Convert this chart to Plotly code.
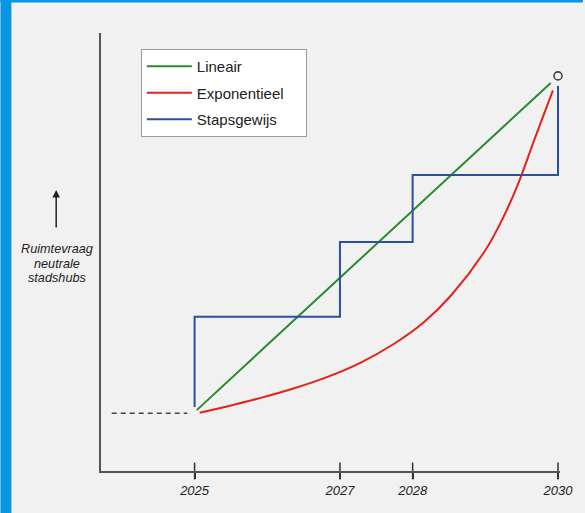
import plotly.graph_objects as go

# ---- data ----
tick_years = [2025, 2027, 2028, 2030]
tick_labels = ["2025", "2027", "2028", "2030"]

lin_x = [2025.03, 2029.90]
lin_y = [13.9, 88.6]

exp_x = [2025.07, 2025.46, 2025.91, 2026.37, 2026.83, 2027.28, 2027.74, 2028.15,
         2028.54, 2029.00, 2029.22, 2029.45, 2029.68, 2029.93]
exp_y = [13.3, 14.8, 16.7, 18.9, 21.5, 24.7, 29.0, 33.9,
         40.3, 50.4, 57.0, 65.5, 75.9, 86.9]

step_x = [2025, 2025, 2027, 2027, 2028, 2028, 2030, 2030]
step_y = [14.6, 35.2, 35.2, 52.3, 52.3, 67.6, 67.6, 87.9]

base_x = [2023.86, 2024.90]
base_y = [13.2, 13.2]

end_x = [2030]
end_y = [90.2]

series_names = ["Lineair", "Exponentieel", "Stapsgewijs"]
y_label_lines = ["Ruimtevraag", "neutrale", "stadshubs"]

FONT = "Liberation Sans, Arial, sans-serif"
PAD = "\u00a0" * 4
PX_PER_YEAR = 73
PLOT_W = 461  # plot area width in px
X0 = 2025 - 94 / PX_PER_YEAR
X1 = X0 + PLOT_W / PX_PER_YEAR

fig = go.Figure()
fig.add_trace(go.Scatter(x=lin_x, y=lin_y, mode="lines", name=series_names[0] + PAD,
                         line=dict(color="#2b8a2b", width=2), legendgroup="a"))
fig.add_trace(go.Scatter(x=exp_x, y=exp_y, mode="lines", name=series_names[1] + PAD,
                         line=dict(color="#e3221e", width=2, shape="spline", smoothing=1.0),
                         legendgroup="b"))
fig.add_trace(go.Scatter(x=step_x, y=step_y, mode="lines", name=series_names[2] + PAD,
                         line=dict(color="#2d4f9c", width=2), legendgroup="c"))
fig.add_trace(go.Scatter(x=base_x, y=base_y, mode="lines", showlegend=False,
                         line=dict(color="#444444", width=1.5, dash="5px,4px")))
fig.add_trace(go.Scatter(x=end_x, y=end_y, mode="markers", showlegend=False,
                         marker=dict(symbol="circle-open", size=8, color="#444444",
                                     line=dict(width=1.6)), cliponaxis=False))
# tick marks crossing the x axis
fig.add_trace(go.Scatter(x=tick_years, y=[0] * len(tick_years), mode="markers", showlegend=False,
                         marker=dict(symbol="line-ns", size=12, line=dict(color="#333333", width=1.5)),
                         cliponaxis=False, hoverinfo="skip"))

annotations = [
    dict(text="", xref="paper", yref="paper", x=(56 - 101) / PLOT_W, y=(471 - 190) / 438,
         showarrow=True, ax=0, ay=39, arrowhead=2, arrowsize=1, arrowwidth=1.5,
         arrowcolor="#222222"),
]
for i, line in enumerate(y_label_lines):
    annotations.append(dict(text=line, xref="paper", yref="paper",
                            x=(57 - 101) / PLOT_W, y=(471 - (249 + 14.5 * i)) / 438,
                            xanchor="center", yanchor="middle", showarrow=False,
                            font=dict(family=FONT, size=12.7, color="#222222", style="italic")))

fig.update_layout(
    width=585, height=513,
    margin=dict(l=101, r=585 - 101 - PLOT_W, t=33, b=42),
    paper_bgcolor="#f1f1f1", plot_bgcolor="#f1f1f1",
    font=dict(family=FONT, color="#222222"),
    showlegend=True,
    legend=dict(x=(141 - 101) / PLOT_W, y=(471 - 49) / 438, xanchor="left", yanchor="top",
                bgcolor="#ffffff", bordercolor="#999999", borderwidth=1,
                font=dict(family=FONT, size=15, color="#222222"),
                tracegroupgap=4, traceorder="grouped", itemwidth=45),
    xaxis=dict(range=[X0, X1], showgrid=False, zeroline=False,
               showline=True, linecolor="#555555", linewidth=2,
               tickmode="array", tickvals=tick_years, ticktext=tick_labels,
               ticks="outside", ticklen=6, tickcolor="#333333", tickwidth=1.5,
               ticklabelstandoff=0,
               tickfont=dict(family=FONT, size=13, color="#222222", style="italic")),
    yaxis=dict(range=[0, 100], showgrid=False, zeroline=False, showticklabels=False,
               showline=True, linecolor="#555555", linewidth=2, ticks=""),
    annotations=annotations,
    shapes=[
        dict(type="rect", xref="paper", yref="paper", x0=-101 / PLOT_W, x1=(11 - 101) / PLOT_W,
             y0=-42 / 438, y1=471 / 438, fillcolor="#0a96e2", line_width=0, layer="below"),
        dict(type="rect", xref="paper", yref="paper", x0=-101 / PLOT_W, x1=(585 - 101) / PLOT_W,
             y0=(471 - 2.5) / 438, y1=471 / 438, fillcolor="#0a96e2", line_width=0, layer="below"),
    ],
)

fig.write_html("out.html", config={"displayModeBar": False},
               post_script="document.body.style.margin='0';")
